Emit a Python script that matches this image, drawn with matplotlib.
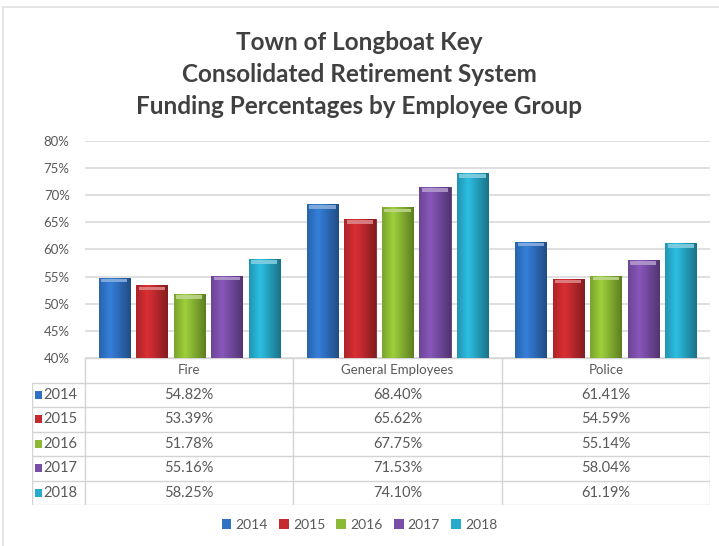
import numpy as np
import matplotlib.pyplot as plt
import matplotlib.colors as mcolors
from matplotlib.patches import Rectangle, FancyBboxPatch

groups = ['Fire', 'General Employees', 'Police']
years = ['2014', '2015', '2016', '2017', '2018']
v2014 = [54.82, 68.40, 61.41]
v2015 = [53.39, 65.62, 54.59]
v2016 = [51.78, 67.75, 55.14]
v2017 = [55.16, 71.53, 58.04]
v2018 = [58.25, 74.10, 61.19]
series = [v2014, v2015, v2016, v2017, v2018]
colors = ['#2f72c4', '#c42a2e', '#8cba34', '#7a4ea8', '#27aacb']
yticks = [40, 45, 50, 55, 60, 65, 70, 75, 80]

W, H = 719, 546
plt.rcParams['font.family'] = ['Lato', 'DejaVu Sans']
fig = plt.figure(figsize=(W / 100, H / 100), dpi=100)
fig.patch.set_facecolor('white')

# outer frame (only left and top visible)
fig.add_artist(Rectangle((3 / W, -0.01), 1.1, (H - 7) / H + 0.01, transform=fig.transFigure,
                         fill=False, edgecolor='#e2e2e2', lw=1.2))

def px(x0, y0, x1, y1):
    return [x0 / W, 1 - y1 / H, (x1 - x0) / W, (y1 - y0) / H]

ax = fig.add_axes(px(85, 141, 710, 358))
ax.set_xlim(-0.5, 2.5)
ax.set_ylim(40, 80)
ax.set_yticks(yticks)
ax.set_yticklabels([f'{t}%' for t in yticks], color='#595959', fontsize=9.5)
ax.tick_params(axis='y', length=0, pad=11)
ax.set_xticks([])
for s in ax.spines.values():
    s.set_visible(False)
ax.grid(axis='y', color='#d9d9d9', lw=1.2)
ax.set_axisbelow(True)

bw = 0.15
step = 0.18
x = np.arange(len(groups))
prof = np.linspace(0, 1, 60)
shade = 1.0 - 0.4 * np.abs(prof - 0.35) / 0.65
for i, vals in enumerate(series):
    base = np.array(mcolors.to_rgb(colors[i]))
    bars = ax.bar(x + (i - 2) * step, np.array(vals) - 40, bw, bottom=40,
                  color=colors[i], edgecolor=base * 0.7, lw=0.6, zorder=2)
    grad = np.clip(base[None, None, :] * shade[None, :, None] * 1.12, 0, 1)
    for b in bars:
        x0, y0 = b.get_x(), b.get_y()
        x1, y1 = x0 + b.get_width(), y0 + b.get_height()
        im = ax.imshow(grad, extent=(x0, x1, y0, y1), aspect='auto', zorder=3,
                       interpolation='bicubic')
        im.set_clip_path(b)
        cap = np.clip(base * 0.55 + 0.45, 0, 1)
        ax.add_patch(Rectangle((x0 + 0.012, y1 - 0.85), b.get_width() - 0.024, 0.6,
                               facecolor=cap, edgecolor='none', zorder=4, alpha=0.85))

# title
title_lines = ['Town of Longboat Key', 'Consolidated Retirement System',
               'Funding Percentages by Employee Group']
for line, ty in zip(title_lines, [42, 75, 107]):
    fig.text(0.5, 1 - ty / H, line, ha='center', va='center',
             fontsize=17.5, fontweight='bold', color='#404040')

# data table
tab = fig.add_axes(px(32, 358, 710, 505))
kx = -0.5 - 53 * 3 / 625
tab.set_xlim(kx, 2.5)
tab.set_ylim(6, 0)
tab.axis('off')
lc = '#d4d4d4'
tab.plot([-0.5, 2.5], [0, 0], color=lc, lw=1)
for r in range(1, 7):
    tab.plot([kx, 2.5], [r, r], color=lc, lw=1)
for c in [-0.5, 0.5, 1.5, 2.5]:
    tab.plot([c, c], [0, 6], color=lc, lw=1)
tab.plot([kx, kx], [1, 6], color=lc, lw=1)
for j, g in enumerate(groups):
    tab.text(j, 0.5, g, ha='center', va='center', fontsize=9.5, color='#595959')
for i, vals in enumerate(series):
    tab.add_patch(Rectangle((kx + 0.012, 1.5 + i - 0.17), 0.035, 0.34,
                            facecolor=colors[i], edgecolor='none'))
    tab.text(kx + 0.055, 1.5 + i, years[i], ha='left', va='center', fontsize=10.5, color='#595959')
    for j, v in enumerate(vals):
        tab.text(j, 1.5 + i, f'{v:.2f}%', ha='center', va='center', fontsize=10.5, color='#595959')

# legend
handles = [Rectangle((0, 0), 1, 1, facecolor=c) for c in colors]
fig.legend(handles, years, loc='center', bbox_to_anchor=(0.5, 1 - 525 / H), ncol=5,
           frameon=False, fontsize=10, handlelength=0.7, handleheight=0.7,
           handletextpad=0.3, columnspacing=0.8, labelcolor='#595959')

fig.savefig('out.png', dpi=100)
